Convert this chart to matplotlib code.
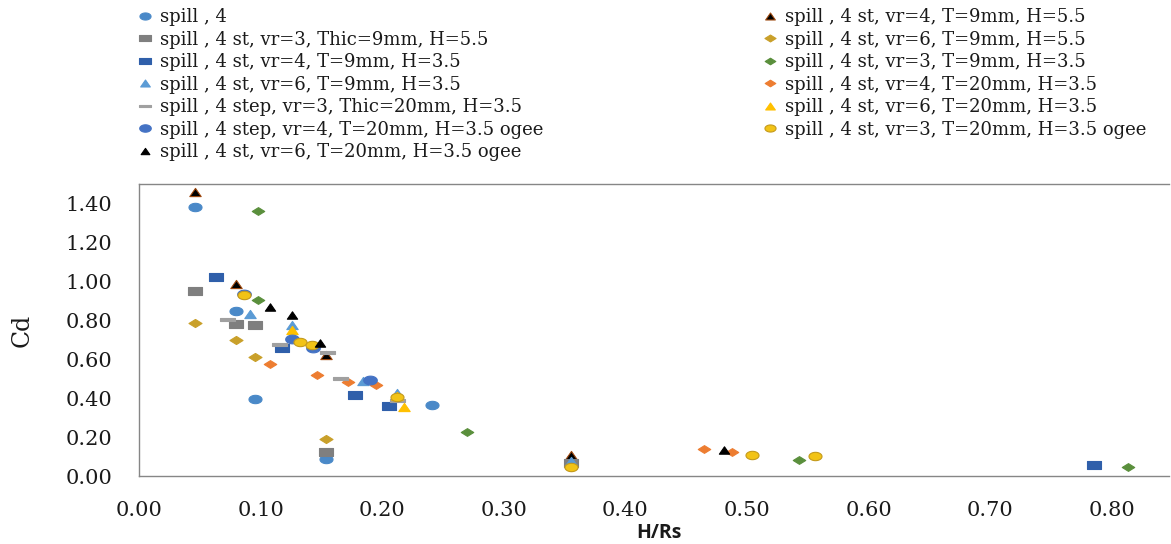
import numpy as np
import matplotlib
matplotlib.use("Agg")
import matplotlib.pyplot as plt
from matplotlib.path import Path

# ---------------- data ----------------
labels = [
    "spill , 4",
    "spill , 4 st, vr=3, Thic=9mm, H=5.5",
    "spill , 4 st, vr=4, T=9mm, H=3.5",
    "spill , 4 st, vr=6, T=9mm, H=3.5",
    "spill , 4 step, vr=3, Thic=20mm, H=3.5",
    "spill , 4 step, vr=4, T=20mm, H=3.5 ogee",
    "spill , 4 st, vr=6, T=20mm, H=3.5 ogee",
    "spill , 4 st, vr=4, T=9mm, H=5.5",
    "spill , 4 st, vr=6, T=9mm, H=5.5",
    "spill , 4 st, vr=3, T=9mm, H=3.5",
    "spill , 4 st, vr=4, T=20mm, H=3.5",
    "spill , 4 st, vr=6, T=20mm, H=3.5",
    "spill , 4 st, vr=3, T=20mm, H=3.5 ogee",
]

x_spill4 = [0.046, 0.080, 0.095, 0.154, 0.241, 0.355]
y_spill4 = [1.38, 0.848, 0.393, 0.088, 0.364, 0.05]

x_vr3_9_55 = [0.046, 0.080, 0.095, 0.154, 0.355]
y_vr3_9_55 = [0.95, 0.783, 0.778, 0.125, 0.065]

x_vr4_9_35 = [0.063, 0.118, 0.178, 0.206, 0.785]
y_vr4_9_35 = [1.02, 0.655, 0.415, 0.359, 0.056]

x_vr6_9_35 = [0.091, 0.126, 0.184, 0.212, 0.355]
y_vr6_9_35 = [0.83, 0.774, 0.49, 0.428, 0.078]

x_step3_20 = [0.072, 0.115, 0.155, 0.165, 0.212]
y_step3_20 = [0.804, 0.68, 0.635, 0.501, 0.39]

x_step4_ogee = [0.086, 0.126, 0.143, 0.190]
y_step4_ogee = [0.935, 0.706, 0.655, 0.492]

x_vr6_20_ogee = [0.108, 0.126, 0.149, 0.481]
y_vr6_20_ogee = [0.868, 0.826, 0.684, 0.133]

x_vr4_9_55 = [0.046, 0.080, 0.154, 0.355]
y_vr4_9_55 = [1.458, 0.985, 0.62, 0.11]

x_vr6_9_55 = [0.046, 0.080, 0.095, 0.154, 0.355]
y_vr6_9_55 = [0.788, 0.697, 0.61, 0.19, 0.045]

x_vr3_9_35 = [0.098, 0.098, 0.270, 0.543, 0.813]
y_vr3_9_35 = [1.36, 0.906, 0.224, 0.082, 0.045]

x_vr4_20_35 = [0.108, 0.146, 0.172, 0.195, 0.465, 0.488]
y_vr4_20_35 = [0.576, 0.518, 0.484, 0.47, 0.138, 0.125]

x_vr6_20_35 = [0.126, 0.212, 0.218]
y_vr6_20_35 = [0.749, 0.41, 0.355]

x_vr3_20_ogee = [0.086, 0.132, 0.142, 0.212, 0.355, 0.504, 0.556]
y_vr3_20_ogee = [0.93, 0.69, 0.672, 0.405, 0.045, 0.106, 0.101]

xs = [x_spill4, x_vr3_9_55, x_vr4_9_35, x_vr6_9_35, x_step3_20, x_step4_ogee,
      x_vr6_20_ogee, x_vr4_9_55, x_vr6_9_55, x_vr3_9_35, x_vr4_20_35,
      x_vr6_20_35, x_vr3_20_ogee]
ys = [y_spill4, y_vr3_9_55, y_vr4_9_35, y_vr6_9_35, y_step3_20, y_step4_ogee,
      y_vr6_20_ogee, y_vr4_9_55, y_vr6_9_55, y_vr3_9_35, y_vr4_20_35,
      y_vr6_20_35, y_vr3_20_ogee]

x_ticks = [0.0, 0.1, 0.2, 0.3, 0.4, 0.5, 0.6, 0.7, 0.8]
y_ticks = [0.0, 0.2, 0.4, 0.6, 0.8, 1.0, 1.2, 1.4]

# ---------------- marker shapes (horizontally stretched) ----------------
def ellipse(ratio):
    t = np.linspace(0, 2 * np.pi, 41)
    v = np.column_stack([np.cos(t), ratio * np.sin(t)])
    return Path(v, closed=True)

def rect(ratio):
    v = [(-1, -ratio), (1, -ratio), (1, ratio), (-1, ratio), (-1, -ratio)]
    return Path(v, closed=True)

def tri(ratio):
    v = [(-1, -ratio), (1, -ratio), (0, ratio), (-1, -ratio)]
    return Path(v, closed=True)

def diamond(ratio):
    v = [(-1, 0), (0, -ratio), (1, 0), (0, ratio), (-1, 0)]
    return Path(v, closed=True)

CIRC = ellipse(0.64)
SQR = rect(0.62)
TRI = tri(0.72)
DIA = diamond(0.62)
DASH = rect(0.2)

# (marker, size pt, face, edge)
styles = [
    (CIRC, 9.4, "#4A89C8", "#4A89C8"),
    (SQR, 9.4, "#7F7F7F", "#7F7F7F"),
    (SQR, 9.4, "#2F5FAA", "#2F5FAA"),
    (TRI, 8.2, "#5B9BD5", "#5B9BD5"),
    (DASH, 10.8, "#A0A0A0", "#A0A0A0"),
    (CIRC, 9.8, "#4472C4", "#4472C4"),
    (TRI, 7.4, "#000000", "#000000"),
    (TRI, 8.2, "#000000", "#9E480E"),
    (DIA, 9.4, "#C9A02A", "#C9A02A"),
    (DIA, 9.0, "#5A8F3C", "#5A8F3C"),
    (DIA, 9.0, "#ED7D31", "#ED7D31"),
    (TRI, 8.2, "#FFC000", "#FFC000"),
    (CIRC, 9.4, "#F2C316", "#C49A1C"),
]

# Excel-like drawing order
draw_order = [0, 7, 1, 8, 2, 9, 3, 10, 4, 11, 5, 12, 6]

fig = plt.figure(figsize=(11.71, 5.44), dpi=100)
W, H = 1171, 544
left, right, top, bottom = 139, 1169, 184, 476
ax = fig.add_axes([left / W, 1 - bottom / H, (right - left) / W, (bottom - top) / H])

handles = [None] * 13
for i in draw_order:
    m, s, fc, ec = styles[i]
    (h,) = ax.plot(xs[i], ys[i], linestyle="none", marker=m, markersize=s,
                   markerfacecolor=fc, markeredgecolor=ec, markeredgewidth=0.8,
                   label=labels[i])
    handles[i] = h

ax.set_xlim(0, (right - left) / 1216.0)
ax.set_ylim(0, 1.5)
ax.set_xticks(x_ticks)
ax.set_xticklabels([f"{v:.2f}" for v in x_ticks])
ax.set_yticks(y_ticks)
ax.set_yticklabels([f"{v:.2f}" for v in y_ticks])
ax.tick_params(length=0, labelsize=15, pad=19)
ax.tick_params(axis="x", pad=18)
for lab in ax.get_xticklabels() + ax.get_yticklabels():
    lab.set_family("DejaVu Serif")
    lab.set_color("#1a1a1a")
for sp in ["left", "bottom", "top"]:
    ax.spines[sp].set_color("#868686")
    ax.spines[sp].set_linewidth(1.0)
ax.spines["right"].set_visible(False)

fig.text(22 / W, 1 - 330 / H, "Cd", rotation=90, ha="center", va="center",
         fontsize=17, family="DejaVu Serif", color="#1a1a1a")
fig.text(659 / W, 1 - 533 / H, "H/Rs", ha="center", va="center",
         fontsize=14, family="Open Sans", fontweight="bold", color="#1a1a1a")

leg_kw = dict(frameon=False, loc="upper left", borderpad=0, borderaxespad=0,
              handlelength=0.85, handletextpad=0.42, labelspacing=0.25,
              prop={"family": "DejaVu Serif", "size": 13}, markerscale=0.85,
              labelcolor="#1a1a1a")
leg1 = fig.legend(handles=handles[:7], bbox_to_anchor=(137 / W, 1 - 8 / H), **leg_kw)
leg2 = fig.legend(handles=handles[7:], bbox_to_anchor=(762 / W, 1 - 8 / H), **leg_kw)

fig.savefig("out.png", dpi=100)
